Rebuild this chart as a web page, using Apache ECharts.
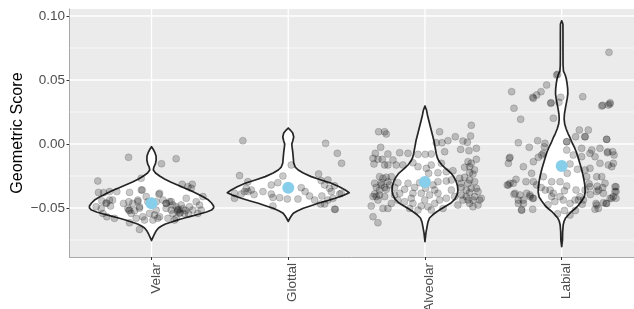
<!DOCTYPE html>
<html>
<head>
<meta charset="utf-8">
<script src="https://cdn.jsdelivr.net/npm/echarts@6/dist/echarts.min.js"></script>
<style>
html,body{margin:0;padding:0;background:#fff;}
#chart{width:634px;height:309px;}
</style>
</head>
<body>
<div id="chart"></div>
<script>
// ---------- data ----------
const categories = ['Velar', 'Glottal', 'Alveolar', 'Labial'];
const yTickValues = [-0.05, 0, 0.05, 0.10];
const yTickLabels = ['\u22120.05', '0.00', '0.05', '0.10'];
const yMinorValues = [-0.075, -0.025, 0.025, 0.075];
const meanScores = [-0.0463, -0.0341, -0.0297, -0.0172];

// violin outlines: score levels and half-widths (category units)
const velarLevels = [-0.0021,-0.0039,-0.0063,-0.0094,-0.0125,-0.0156,-0.0180,-0.0203,-0.0227,-0.0250,-0.0273,-0.0297,-0.0320,-0.0344,-0.0367,-0.0391,-0.0414,-0.0438,-0.0461,-0.0484,-0.0500,-0.0516,-0.0531,-0.0547,-0.0563,-0.0578,-0.0594,-0.0609,-0.0625,-0.0641,-0.0656,-0.0680,-0.0703,-0.0727,-0.0754];
const velarWidths = [0,0.011,0.023,0.033,0.034,0.028,0.017,0.013,0.029,0.059,0.095,0.139,0.190,0.241,0.293,0.337,0.380,0.417,0.439,0.454,0.454,0.439,0.402,0.351,0.293,0.241,0.190,0.146,0.102,0.073,0.051,0.033,0.022,0.011,0];
const glottalLevels = [0.0125,0.0109,0.0086,0.0055,0.0023,0.0000,-0.0023,-0.0063,-0.0109,-0.0148,-0.0180,-0.0203,-0.0227,-0.0255,-0.0281,-0.0307,-0.0334,-0.0359,-0.0380,-0.0398,-0.0424,-0.0445,-0.0463,-0.0484,-0.0502,-0.0523,-0.0541,-0.0563,-0.0582,-0.0605];
const glottalWidths = [0,0.015,0.033,0.040,0.033,0.026,0.028,0.033,0.037,0.040,0.051,0.073,0.110,0.168,0.241,0.315,0.373,0.417,0.446,0.410,0.344,0.278,0.219,0.161,0.110,0.066,0.037,0.022,0.011,0];
const alveolarLevels = [0.0297,0.0266,0.0227,0.0188,0.0133,0.0078,0.0023,-0.0031,-0.0078,-0.0109,-0.0133,-0.0164,-0.0195,-0.0227,-0.0258,-0.0289,-0.0328,-0.0367,-0.0398,-0.0430,-0.0461,-0.0484,-0.0508,-0.0531,-0.0555,-0.0578,-0.0609,-0.0648,-0.0695,-0.0763];
const alveolarWidths = [0,0.011,0.018,0.027,0.040,0.053,0.066,0.075,0.083,0.091,0.102,0.124,0.154,0.190,0.212,0.227,0.238,0.241,0.234,0.219,0.190,0.154,0.117,0.084,0.055,0.033,0.022,0.015,0.007,0];
const labialLevels = [0.0963,0.0938,0.0852,0.0734,0.0617,0.0570,0.0539,0.0508,0.0469,0.0430,0.0391,0.0352,0.0313,0.0273,0.0234,0.0195,0.0156,0.0117,0.0078,0.0047,0.0008,-0.0031,-0.0070,-0.0109,-0.0148,-0.0188,-0.0234,-0.0281,-0.0328,-0.0375,-0.0414,-0.0445,-0.0477,-0.0508,-0.0531,-0.0555,-0.0578,-0.0602,-0.0633,-0.0688,-0.0750,-0.0802];
const labialWidths = [0,0.009,0.0095,0.0095,0.010,0.013,0.026,0.034,0.040,0.044,0.045,0.040,0.033,0.026,0.020,0.018,0.022,0.033,0.048,0.062,0.077,0.095,0.110,0.121,0.132,0.143,0.154,0.163,0.170,0.172,0.165,0.146,0.124,0.095,0.069,0.048,0.029,0.018,0.011,0.007,0.006,0];

// jittered observations: [horizontal jitter (category units), geometric score]
const velarPoints = [[-0.393,-0.0289],[-0.168,-0.0104],[0.073,-0.0154],[0.180,-0.0115],[-0.388,-0.0378],[-0.351,-0.0380],[-0.307,-0.0372],[-0.254,-0.0372],[-0.363,-0.0445],[-0.307,-0.0438],[-0.285,-0.0438],[-0.405,-0.0490],[-0.368,-0.0503],[-0.332,-0.0464],[-0.356,-0.0542],[-0.327,-0.0568],[-0.271,-0.0581],[-0.161,-0.0378],[-0.166,-0.0451],[-0.173,-0.0503],[-0.161,-0.0615],[-0.149,-0.0542],[-0.124,-0.0521],[-0.112,-0.0581],[-0.088,-0.0667],[-0.051,-0.0594],[-0.068,-0.0359],[-0.076,-0.0268],[-0.039,-0.0411],[-0.027,-0.0451],[0.034,-0.0451],[0.054,-0.0393],[0.022,-0.0555],[0.059,-0.0568],[0.034,-0.0516],[0.083,-0.0438],[0.107,-0.0503],[0.144,-0.0516],[0.120,-0.0581],[0.156,-0.0542],[0.180,-0.0490],[0.180,-0.0581],[0.217,-0.0477],[0.224,-0.0315],[0.266,-0.0333],[0.298,-0.0315],[0.290,-0.0346],[0.254,-0.0424],[0.278,-0.0490],[0.302,-0.0516],[0.327,-0.0451],[0.351,-0.0477],[0.363,-0.0516],[0.376,-0.0411],[0.339,-0.0542],[0.205,-0.0542],[0.241,-0.0542],[0.107,-0.0464],[0.132,-0.0451],[0.156,-0.0477],[0.193,-0.0516],[0.168,-0.0594],[-0.015,-0.0542],[0.010,-0.0594],[-0.100,-0.0438],[-0.088,-0.0490],[-0.137,-0.0464],[-0.205,-0.0464],[0.190,-0.0525],[0.210,-0.0535],[0.200,-0.0510],[0.230,-0.0505],[0.250,-0.0520],[0.270,-0.0545],[-0.330,-0.0460],[-0.300,-0.0485],[-0.075,-0.0360],[0.059,-0.0385],[-0.100,-0.0450],[-0.088,-0.0502],[-0.166,-0.0518],[-0.160,-0.0518],[-0.064,-0.0568],[0.046,-0.0580],[0.107,-0.0463],[0.144,-0.0450]];
const glottalPoints = [[-0.332,0.0026],[0.273,0.0005],[0.359,-0.0073],[0.390,-0.0151],[-0.356,-0.0247],[-0.295,-0.0294],[-0.307,-0.0346],[-0.320,-0.0372],[-0.295,-0.0372],[-0.393,-0.0385],[-0.393,-0.0424],[-0.344,-0.0391],[0.022,-0.0164],[-0.039,-0.0250],[-0.076,-0.0302],[-0.124,-0.0320],[-0.185,-0.0372],[-0.124,-0.0391],[-0.112,-0.0417],[-0.063,-0.0419],[-0.007,-0.0430],[0.071,-0.0430],[-0.112,-0.0484],[0.095,-0.0341],[0.124,-0.0372],[0.156,-0.0406],[0.222,-0.0234],[0.241,-0.0286],[0.290,-0.0281],[0.266,-0.0320],[0.302,-0.0346],[0.339,-0.0326],[0.376,-0.0391],[0.327,-0.0424],[0.246,-0.0406],[0.237,-0.0469],[0.266,-0.0469],[0.344,-0.0510],[0.388,-0.0385],[0.315,-0.0372],[0.193,-0.0438],[0.290,-0.0438],[0.339,-0.0510],[-0.270,-0.0360],[-0.250,-0.0395]];
const alveolarPoints = [[-0.339,0.0096],[-0.295,0.0096],[-0.283,0.0078],[-0.324,-0.0026],[0.107,0.0096],[0.222,0.0057],[0.334,0.0063],[0.339,0.0146],[0.083,0.0010],[0.124,0.0010],[0.168,0.0026],[0.278,0.0023],[0.310,0.0013],[0.376,-0.0034],[0.261,-0.0042],[0.322,-0.0052],[0.144,-0.0060],[0.046,-0.0078],[0.002,-0.0081],[-0.051,-0.0081],[-0.124,-0.0073],[-0.185,-0.0068],[-0.271,-0.0078],[-0.363,-0.0073],[-0.380,-0.0112],[-0.344,-0.0120],[-0.312,-0.0120],[-0.234,-0.0125],[-0.373,-0.0156],[-0.295,-0.0164],[-0.271,-0.0164],[-0.210,-0.0164],[-0.161,-0.0164],[-0.088,-0.0146],[-0.051,-0.0177],[0.010,-0.0190],[0.046,-0.0164],[0.120,-0.0151],[0.027,-0.0229],[0.095,-0.0224],[0.156,-0.0216],[0.205,-0.0208],[0.290,-0.0182],[0.376,-0.0120],[0.327,-0.0224],[0.351,-0.0234],[0.290,-0.0260],[0.254,-0.0268],[0.193,-0.0281],[0.156,-0.0289],[0.266,-0.0307],[0.315,-0.0307],[0.327,-0.0281],[0.363,-0.0294],[0.095,-0.0294],[0.059,-0.0320],[0.005,-0.0346],[-0.039,-0.0302],[-0.076,-0.0339],[-0.124,-0.0307],[-0.198,-0.0302],[-0.271,-0.0294],[-0.320,-0.0302],[-0.368,-0.0307],[-0.356,-0.0339],[-0.295,-0.0339],[-0.332,-0.0359],[-0.283,-0.0354],[-0.222,-0.0339],[-0.149,-0.0354],[-0.088,-0.0385],[-0.027,-0.0385],[0.034,-0.0398],[0.095,-0.0385],[0.193,-0.0359],[0.266,-0.0339],[0.302,-0.0359],[0.327,-0.0380],[0.363,-0.0411],[0.400,-0.0438],[0.388,-0.0477],[0.351,-0.0490],[0.327,-0.0464],[0.278,-0.0438],[0.241,-0.0477],[0.217,-0.0411],[0.156,-0.0424],[0.107,-0.0438],[0.071,-0.0464],[0.022,-0.0490],[-0.027,-0.0484],[-0.051,-0.0516],[0.046,-0.0516],[0.132,-0.0503],[-0.198,-0.0438],[-0.246,-0.0464],[-0.271,-0.0503],[-0.307,-0.0503],[-0.344,-0.0438],[-0.380,-0.0411],[-0.393,-0.0484],[-0.368,-0.0391],[-0.149,-0.0451],[-0.088,-0.0464],[-0.112,-0.0503],[-0.380,-0.0568],[-0.344,-0.0615],[0.071,-0.0359],[-0.002,-0.0438],[-0.100,-0.0424],[-0.185,-0.0385],[-0.222,-0.0398],[0.266,-0.0398],[0.412,-0.0424],[0.315,-0.0438],[-0.332,-0.0255],[-0.307,-0.0268],[-0.283,-0.0260],[-0.246,-0.0255],[-0.320,-0.0320],[-0.259,-0.0320],[-0.295,-0.0411],[-0.356,-0.0411],[-0.332,-0.0398],[0.315,-0.0138],[0.339,-0.0151],[0.327,-0.0177],[0.363,-0.0203],[0.339,-0.0346],[0.376,-0.0346],[0.388,-0.0372],[0.302,-0.0411],[0.351,-0.0438]];
const labialPoints = [[0.346,0.0716],[-0.029,0.0544],[-0.110,0.0461],[-0.151,0.0409],[-0.183,0.0383],[-0.212,0.0365],[-0.207,0.0357],[-0.078,0.0323],[-0.020,0.0326],[-0.007,0.0365],[0.154,0.0370],[0.300,0.0302],[0.341,0.0305],[0.354,0.0323],[-0.366,0.0409],[-0.349,0.0279],[-0.300,0.0193],[-0.061,0.0201],[0.195,0.0109],[0.171,0.0057],[0.102,0.0057],[0.329,0.0036],[-0.317,0.0010],[-0.176,0.0026],[-0.122,0.0005],[-0.237,-0.0026],[-0.127,-0.0021],[0.037,0.0018],[0.037,-0.0047],[0.146,-0.0034],[0.220,-0.0047],[0.280,-0.0034],[0.334,-0.0068],[0.373,-0.0060],[0.383,-0.0086],[-0.378,-0.0104],[-0.171,-0.0104],[-0.146,-0.0086],[-0.390,-0.0151],[-0.280,-0.0177],[-0.207,-0.0138],[-0.134,-0.0073],[0.085,-0.0086],[0.146,-0.0099],[0.207,-0.0073],[0.244,-0.0099],[0.378,-0.0151],[0.341,-0.0164],[0.280,-0.0151],[0.207,-0.0190],[0.171,-0.0203],[0.061,-0.0156],[0.041,-0.0229],[0.115,-0.0198],[0.183,-0.0255],[0.256,-0.0255],[0.293,-0.0255],[0.317,-0.0307],[0.390,-0.0333],[0.398,-0.0372],[0.378,-0.0411],[0.354,-0.0424],[0.305,-0.0385],[0.256,-0.0372],[0.207,-0.0333],[0.171,-0.0359],[0.105,-0.0359],[0.037,-0.0328],[-0.012,-0.0294],[-0.073,-0.0294],[-0.134,-0.0255],[-0.220,-0.0229],[-0.207,-0.0294],[-0.183,-0.0320],[-0.261,-0.0294],[-0.334,-0.0276],[-0.390,-0.0320],[-0.354,-0.0307],[-0.341,-0.0385],[-0.305,-0.0398],[-0.256,-0.0385],[-0.232,-0.0411],[-0.207,-0.0424],[-0.280,-0.0464],[-0.293,-0.0516],[-0.212,-0.0510],[-0.085,-0.0359],[-0.061,-0.0385],[-0.073,-0.0411],[-0.012,-0.0411],[0.061,-0.0464],[0.012,-0.0438],[0.098,-0.0438],[0.134,-0.0411],[0.159,-0.0438],[0.251,-0.0464],[0.268,-0.0503],[0.305,-0.0458],[0.329,-0.0464],[0.061,-0.0555],[0.122,-0.0438],[-0.383,-0.0112],[-0.398,-0.0320],[-0.378,-0.0307],[-0.349,-0.0393],[-0.317,-0.0438],[-0.293,-0.0516],[-0.317,-0.0464],[-0.281,-0.0438],[-0.232,-0.0398],[-0.212,-0.0424],[0.293,0.0297],[0.353,0.0313],[0.329,0.0037],[0.337,-0.0060],[0.366,-0.0177],[0.397,-0.0334],[0.390,-0.0372],[0.366,-0.0424],[0.324,-0.0464],[0.256,-0.0477],[0.244,-0.0510],[0.397,-0.0424],[-0.080,0.0318],[-0.037,0.0539],[0.129,0.0109],[0.170,0.0057],[0.037,0.0018],[-0.150,-0.0340],[-0.120,-0.0360],[0.200,-0.0310],[0.260,-0.0330],[0.270,-0.0360],[0.300,-0.0340],[0.210,-0.0395],[-0.050,-0.0450],[0.020,-0.0365],[-0.100,-0.0475],[-0.030,-0.0545],[0.020,-0.0520],[0.150,-0.0470],[0.100,-0.0520]];

// ---------- assembly ----------
const violinLevels = [velarLevels, glottalLevels, alveolarLevels, labialLevels];
const violinWidths = [velarWidths, glottalWidths, alveolarWidths, labialWidths];
const pointSets = [velarPoints, glottalPoints, alveolarPoints, labialPoints];

const X_MIN = 0.4, X_MAX = 4.529;
const Y_MIN = -0.08828, Y_MAX = 0.10547;

const scatterData = [];
pointSets.forEach((pts, ci) => pts.forEach(p => scatterData.push([ci + 1 + p[0], p[1]])));

const meanData = meanScores.map((m, i) => [i + 1, m]);

const hGridData = yTickValues.map(v => [X_MIN, v, 1]).concat(yMinorValues.map(v => [X_MIN, v, 0]));
const vGridData = categories.map((c, i) => [i + 1, Y_MIN]);

const chart = echarts.init(document.getElementById('chart'), null, {renderer: 'canvas'});
const FONT = '"Liberation Sans", Arial, Helvetica, sans-serif';

chart.setOption({
  animation: false,
  backgroundColor: '#ffffff',
  grid: {left: 69.5, right: 0, top: 9, bottom: 52, show: true, backgroundColor: '#EBEBEB', borderWidth: 0,
         containLabel: false, outerBoundsMode: 'none'},
  xAxis: {
    type: 'value', min: X_MIN, max: X_MAX,
    splitLine: {show: false},
    axisLine: {show: true, onZero: false, lineStyle: {color: '#a8a8a8', width: 1}},
    axisTick: {show: true, length: 3, lineStyle: {color: '#333333', width: 1}, customValues: [1, 2, 3, 4]},
    axisLabel: {
      show: true, rotate: 90, margin: 6, color: '#4D4D4D', fontSize: 13.5, fontFamily: FONT,
      verticalAlign: 'top', lineHeight: 9,
      customValues: [1, 2, 3, 4],
      formatter: v => categories[Math.round(v) - 1] || ''
    }
  },
  yAxis: {
    type: 'value', min: Y_MIN, max: Y_MAX,
    splitLine: {show: false},
    axisLine: {show: true, onZero: false, lineStyle: {color: '#a8a8a8', width: 1}},
    axisTick: {show: true, length: 3, lineStyle: {color: '#333333', width: 1}, customValues: yTickValues},
    axisLabel: {
      show: true, margin: 4.5, color: '#4D4D4D', fontSize: 13.5, fontFamily: FONT,
      customValues: yTickValues,
      formatter: v => {
        let idx = yTickValues.findIndex(t => Math.abs(t - v) < 1e-9);
        return idx >= 0 ? yTickLabels[idx] : '';
      }
    },
    name: 'Geometric Score', nameLocation: 'middle', nameGap: 44, nameRotate: 90, nameMoveOverlap: false,
    nameTextStyle: {color: '#000000', fontSize: 16.2, fontFamily: FONT}
  },
  series: [
    {
      type: 'custom', name: 'hgrid', z: 1, silent: true,
      data: hGridData,
      renderItem: (params, api) => {
        const y = api.value(1), major = api.value(2) === 1;
        const a = api.coord([X_MIN, y]), b = api.coord([X_MAX, y]);
        return {type: 'line', shape: {x1: a[0], y1: a[1], x2: b[0], y2: b[1]},
          style: {stroke: '#ffffff', lineWidth: major ? 1.3 : 0.65}};
      }
    },
    {
      type: 'custom', name: 'vgrid', z: 1, silent: true,
      data: vGridData,
      renderItem: (params, api) => {
        const x = api.value(0);
        const a = api.coord([x, Y_MIN]), b = api.coord([x, Y_MAX]);
        return {type: 'line', shape: {x1: a[0], y1: a[1], x2: b[0], y2: b[1]},
          style: {stroke: '#ffffff', lineWidth: 1.3}};
      }
    },
    {
      type: 'custom', name: 'violin', z: 2, silent: true,
      data: categories.map((c, i) => [i + 1, meanScores[i]]),
      renderItem: (params, api) => {
        const i = params.dataIndex, cx = api.value(0);
        const ys = violinLevels[i], ws = violinWidths[i];
        const left = [], right = [];
        for (let k = 0; k < ys.length; k++) {
          left.push(api.coord([cx - ws[k], ys[k]]));
          right.push(api.coord([cx + ws[k], ys[k]]));
        }
        const pts = left.concat(right.reverse());
        return {type: 'polygon', shape: {points: pts},
          style: {fill: '#ffffff', stroke: '#262626', lineWidth: 1.7, lineJoin: 'round'}};
      }
    },
    {
      type: 'scatter', name: 'obs', z: 3, silent: true,
      data: scatterData, symbol: 'circle', symbolSize: 7,
      itemStyle: {color: 'rgba(0,0,0,0.21)', borderColor: 'rgba(0,0,0,0.22)', borderWidth: 0.7, opacity: 1}
    },
    {
      type: 'scatter', name: 'mean', z: 4, silent: true,
      data: meanData, symbol: 'circle', symbolSize: 12,
      itemStyle: {color: '#87CEEB', opacity: 1}
    }
  ]
});
</script>
</body>
</html>
